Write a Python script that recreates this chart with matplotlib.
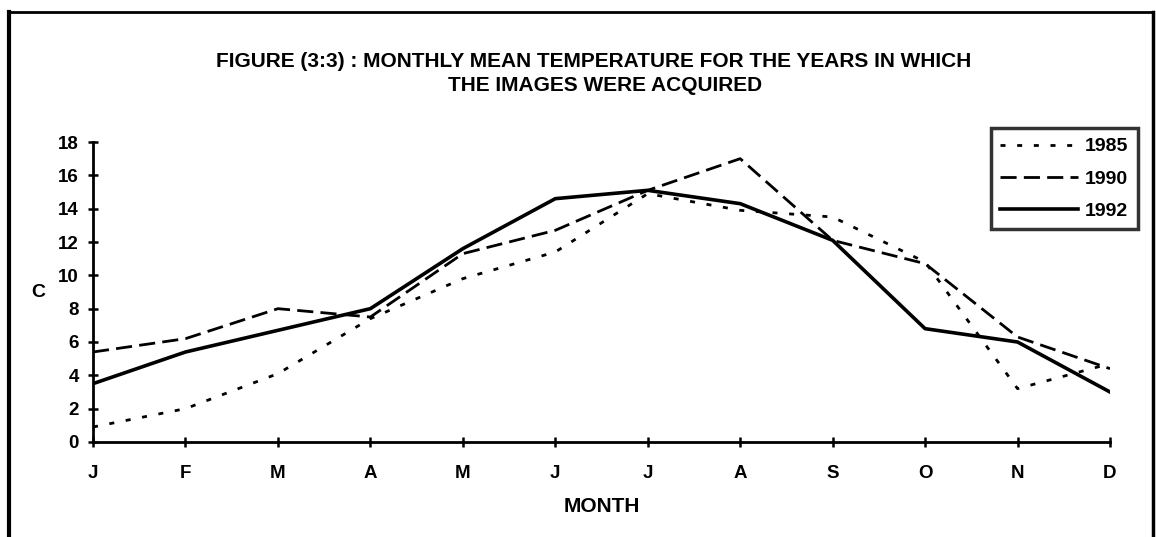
import matplotlib
matplotlib.use("Agg")
import matplotlib.pyplot as plt
from matplotlib.lines import Line2D

plt.rcParams['font.family'] = ['Liberation Sans', 'DejaVu Sans']
plt.rcParams['font.weight'] = 'bold'

months = ["J", "F", "M", "A", "M", "J", "J", "A", "S", "O", "N", "D"]
t1985 = [0.9, 2.0, 4.1, 7.4, 9.8, 11.4, 14.9, 13.9, 13.5, 10.8, 3.2, 4.7]
t1990 = [5.4, 6.2, 8.0, 7.5, 11.3, 12.7, 15.1, 17.0, 12.1, 10.7, 6.3, 4.4]
t1992 = [3.5, 5.4, 6.7, 8.0, 11.6, 14.6, 15.1, 14.3, 12.1, 6.8, 6.0, 3.0]
yticks = list(range(0, 19, 2))

W, H = 1156, 537
fig = plt.figure(figsize=(W / 100, H / 100), dpi=100)
ax = fig.add_axes([93 / W, 1 - 442 / H, (1110 - 93) / W, 300 / H])

dot = (0, (1.8, 4.2))
dash = (0, (5.8, 2.6))
x = list(range(len(months)))
ax.plot(x, t1985, color='black', lw=2.0, linestyle=dot)
ax.plot(x, t1990, color='black', lw=2.0, linestyle=dash)
ax.plot(x, t1992, color='black', lw=2.6, linestyle='-')

ax.set_xlim(0, 11)
ax.set_ylim(0, 18)
ax.set_xticks(x)
ax.set_xticklabels(months)
ax.set_yticks(yticks)
ax.tick_params(axis='both', direction='inout', length=6.5, width=1.8, labelsize=13.5)
ax.tick_params(axis='x', pad=13)
ax.tick_params(axis='y', pad=7)
for s in ['top', 'right']:
    ax.spines[s].set_visible(False)
for s in ['left', 'bottom']:
    ax.spines[s].set_linewidth(2.0)

ax.set_xlabel('MONTH', fontsize=15, fontweight='bold', labelpad=11)
ax.set_ylabel('C', fontsize=14, fontweight='bold', rotation=0, labelpad=14, va='center')

handles = [Line2D([], [], color='black', lw=2.0, linestyle=dot),
           Line2D([], [], color='black', lw=2.0, linestyle=dash),
           Line2D([], [], color='black', lw=2.6)]
leg = ax.legend(handles, ['1985', '1990', '1992'], loc='upper right',
                bbox_to_anchor=(1138 / W, 1 - 128 / H), bbox_transform=fig.transFigure,
                borderaxespad=0, frameon=True, fancybox=False, fontsize=14,
                handlelength=4.0, handletextpad=0.35, labelspacing=0.75,
                borderpad=0.5)
leg.get_frame().set_edgecolor('black')
leg.get_frame().set_linewidth(2.5)
for t in leg.get_texts():
    t.set_fontweight('bold')

fig.text(594 / W, 1 - 67 / H, 'FIGURE (3:3) : MONTHLY MEAN TEMPERATURE FOR THE YEARS IN WHICH',
         ha='center', va='baseline', fontsize=15, fontweight='bold')
fig.text(605 / W, 1 - 91 / H, 'THE IMAGES WERE ACQUIRED',
         ha='center', va='baseline', fontsize=15, fontweight='bold')

# page border
fig.add_artist(Line2D([9 / W, 9 / W], [0, 1 - 12 / H], color='black', lw=3, transform=fig.transFigure))
fig.add_artist(Line2D([9 / W, 1153 / W], [1 - 12 / H, 1 - 12 / H], color='black', lw=2, transform=fig.transFigure))
fig.add_artist(Line2D([1153 / W, 1153 / W], [0, 1 - 12 / H], color='black', lw=2.5, transform=fig.transFigure))

fig.savefig('out.png', dpi=100)
